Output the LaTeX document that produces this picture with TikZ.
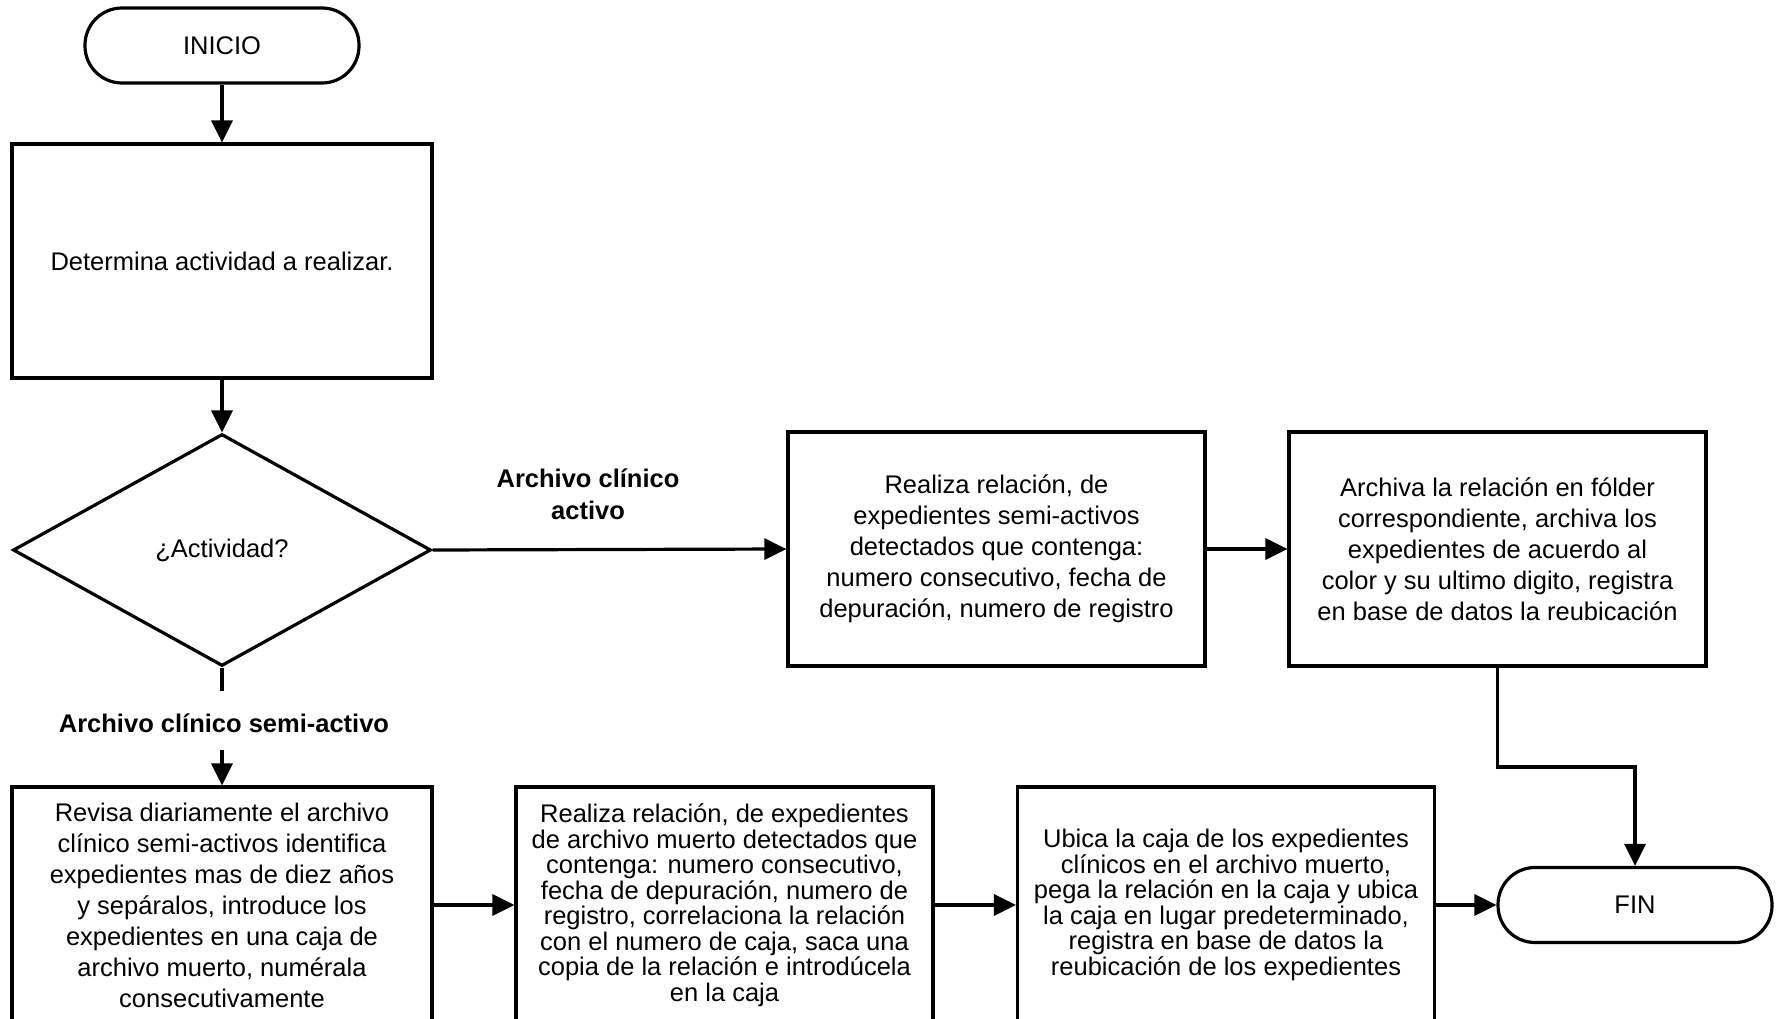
\documentclass[tikz,border=0pt]{standalone}
\usepackage{fontspec}
\setmainfont{Liberation Sans}
\usetikzlibrary{shapes.geometric,arrows.meta}
\begin{document}
\begin{tikzpicture}[x=1pt,y=-1pt,
  every node/.style={font=\fontsize{25.5}{31}\selectfont, text=black},
  box/.style={draw, line width=3.2pt, rectangle, align=center, inner sep=0pt, minimum width=417pt},
  tight/.style={font=\fontsize{25.5}{25.5}\selectfont},
  term/.style={draw, line width=3.2pt, rounded corners=37pt, minimum width=274pt, minimum height=75pt},
  arr/.style={line width=3.2pt, -{Triangle[length=22pt,width=21pt]}},
  ln/.style={line width=3.2pt},
  lbl/.style={font=\bfseries\fontsize{25.5}{32}\selectfont, align=center}]
\useasboundingbox (0,0) rectangle (1777,1019);

\node[term] (ini) at (222,45.5) {INICIO};
\node[box, minimum width=420pt, minimum height=234pt] (b1) at (222,261) {Determina actividad a realizar.};
\node[draw, diamond, line width=3.2pt, minimum width=418pt, minimum height=232pt, inner sep=0pt] (dia) at (222,550) {¿Actividad?};

\node[box, minimum height=234pt] (b2) at (996.5,549) {Realiza relación, de\\expedientes semi-activos\\detectados que contenga:\\numero consecutivo, fecha de\\depuración, numero de registro};
\node[box, minimum height=234pt] (b3) at (1497.5,549) {Archiva la relación en fólder\\correspondiente, archiva los\\expedientes de acuerdo al\\color y su ultimo digito, registra\\en base de datos la reubicación};

\node[box, minimum width=420pt, minimum height=236pt] (b4) at (222,905) {Revisa diariamente el archivo\\clínico semi-activos identifica\\expedientes mas de diez años\\y sepáralos, introduce los\\expedientes en una caja de\\archivo muerto, numérala\\consecutivamente};
\node[box, tight, minimum height=236pt] (b5) at (724.5,905) {Realiza relación, de expedientes\\de archivo muerto detectados que\\contenga: numero consecutivo,\\fecha de depuración, numero de\\registro, correlaciona la relación\\con el numero de caja, saca una\\copia de la relación e introdúcela\\en la caja};
\node[box, tight, minimum height=236pt] (b6) at (1226,905) {Ubica la caja de los expedientes\\clínicos en el archivo muerto,\\pega la relación en la caja y ubica\\la caja en lugar predeterminado,\\registra en base de datos la\\reubicación de los expedientes};

\node[term] (fin) at (1635,905) {FIN};

\node[lbl] (lact) at (588,494) {Archivo clínico\\activo};
\node[lbl] (lsemi) at (224,723) {Archivo clínico semi-activo};

\coordinate (s1) at (222,691);
\coordinate (s2) at (222,750);
\coordinate (elbow) at (1635,767);

\draw[arr] (ini) -- (b1);
\draw[arr] (b1) -- (dia);
\draw[ln] (dia.south) -- (s1);
\draw[arr] (s2) -- (b4);
\draw[arr] (dia.east) -- (b2.west);
\draw[arr] (b2) -- (b3);
\draw[arr] (b3.south) |- (elbow) -- (fin.north);
\draw[arr] (b4) -- (b5);
\draw[arr] (b5) -- (b6);
\draw[arr] (b6) -- (fin);
\end{tikzpicture}
\end{document}
